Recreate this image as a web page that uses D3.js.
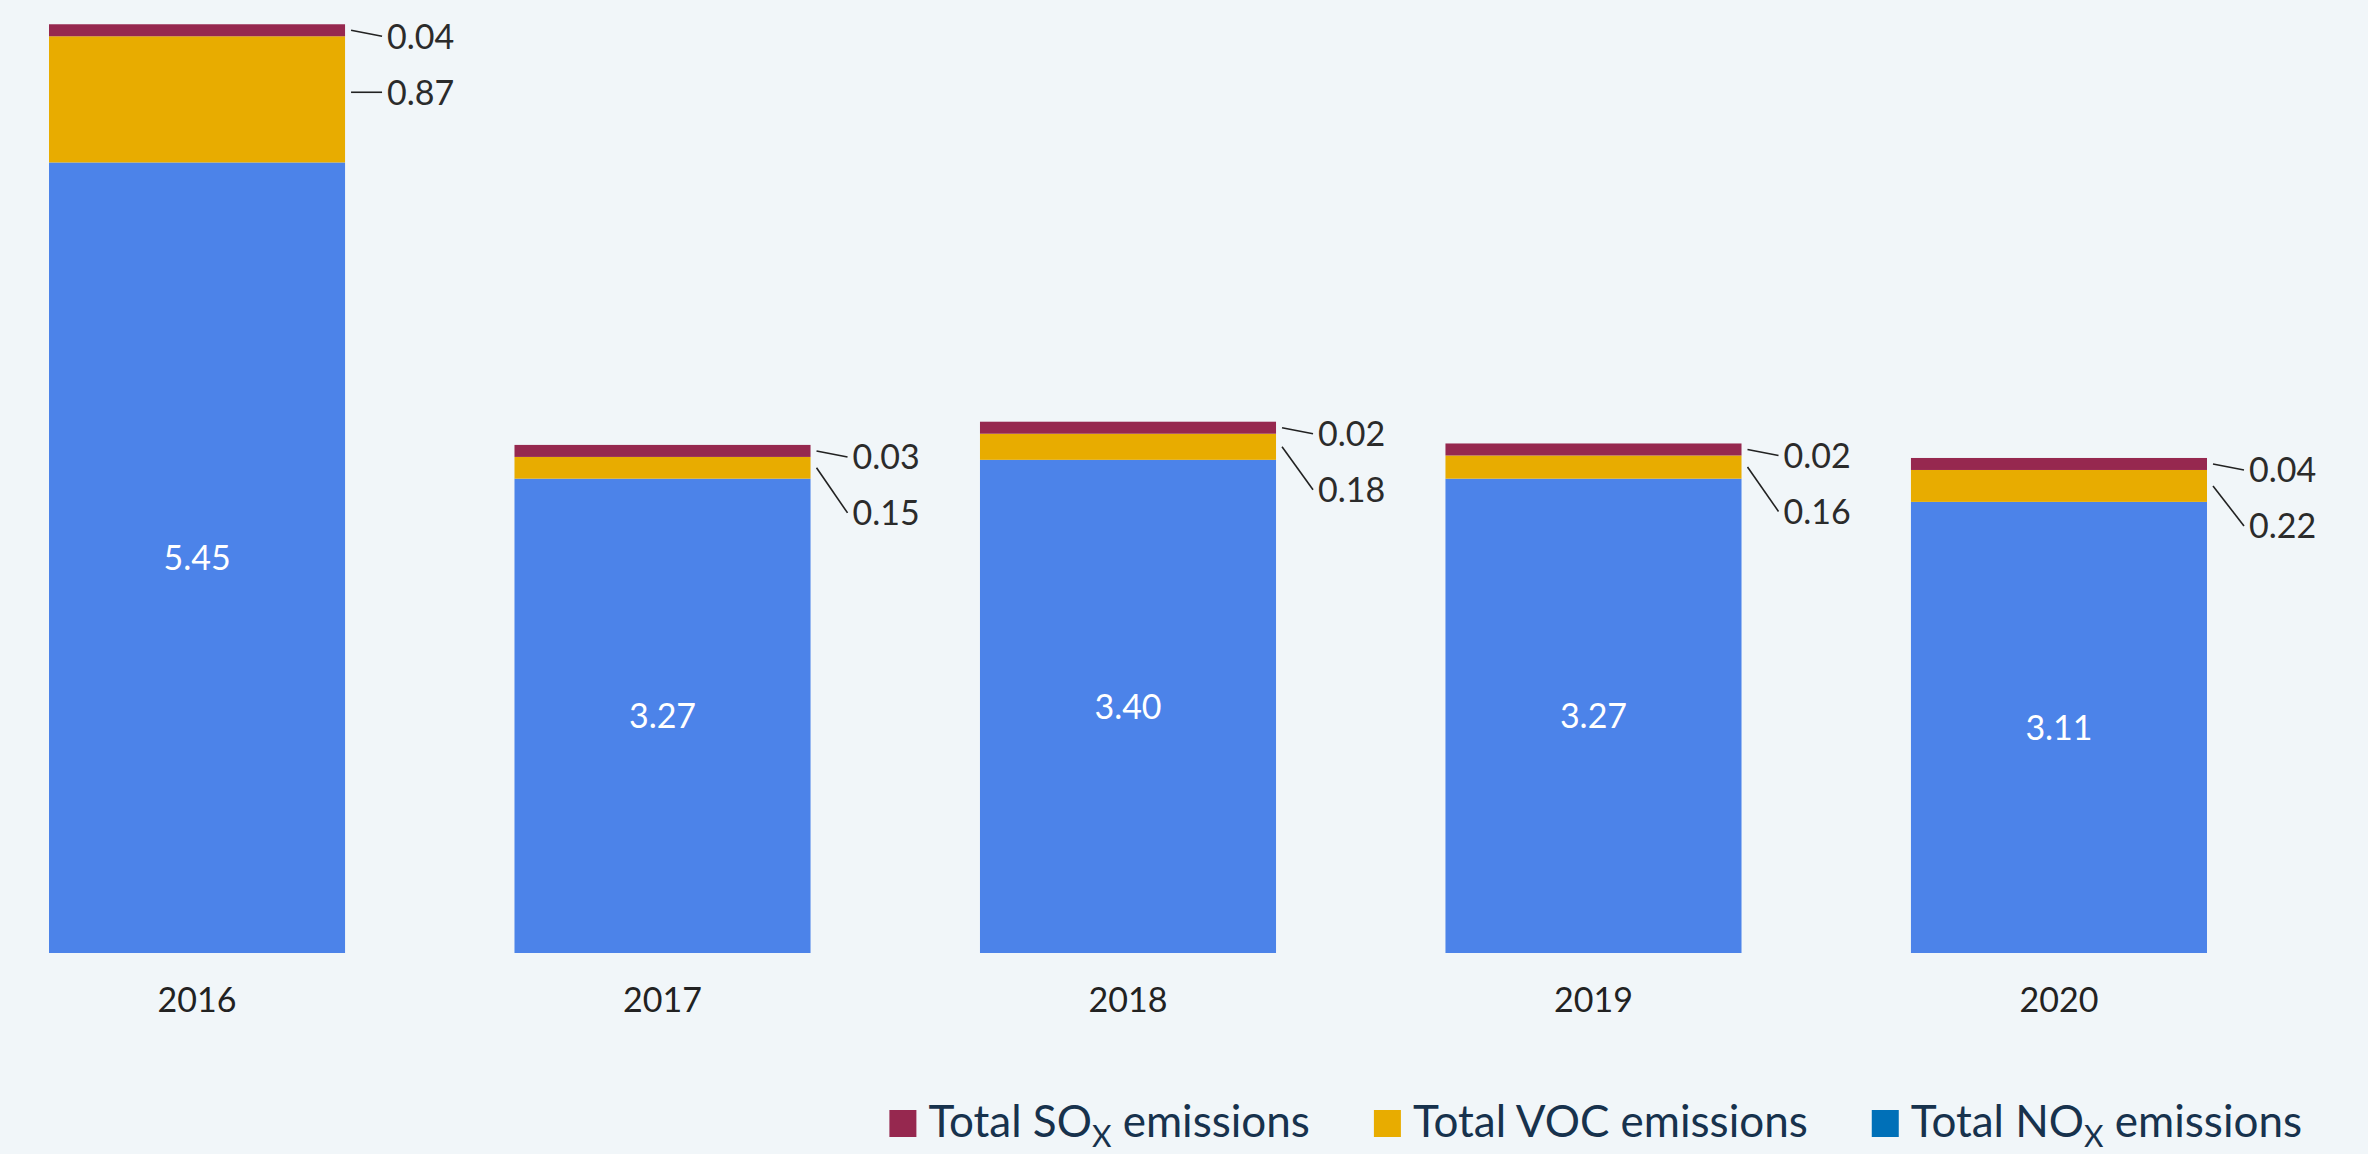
<!DOCTYPE html>
<html>
<head>
<meta charset="utf-8">
<script src="https://cdn.jsdelivr.net/npm/d3@7"></script>
<style>
  html, body { margin: 0; padding: 0; background: #F1F6F9; }
  svg { display: block; }
  text { font-family: Lato, "Noto Sans", sans-serif; font-weight: 400; }
</style>
</head>
<body>
<svg id="chart" width="2368" height="1154"></svg>
<script>
// ---- data ----
const years = ["2016", "2017", "2018", "2019", "2020"];
const noxValues = [5.45, 3.27, 3.40, 3.27, 3.11];
const vocValues = [0.87, 0.15, 0.18, 0.16, 0.22];
const soxValues = [0.04, 0.03, 0.02, 0.02, 0.04];
const legendLabels = [
  { main: "Total SO", sub: "X", rest: " emissions", key: "sox" },
  { main: "Total VOC emissions", sub: "", rest: "", key: "voc" },
  { main: "Total NO", sub: "X", rest: " emissions", key: "nox" }
];

// ---- style ----
const colors = { sox: "#96284F", voc: "#E8AC00", nox: "#4C83E9" };
const legendColors = { sox: "#96284F", voc: "#E8AC00", nox: "#0070B8" };
const W = 2368, H = 1154;
const svg = d3.select("#chart");

svg.append("rect").attr("width", W).attr("height", H).attr("fill", "#F1F6F9");

const x = d3.scaleBand().domain(years).range([49, 2207]).paddingInner(0.364).paddingOuter(0);
const y = d3.scaleLinear().domain([0, 6.57]).range([953, 0]);
const minSegment = 12;

const rows = years.map((yr, i) => ({ year: yr, nox: noxValues[i], voc: vocValues[i], sox: soxValues[i] }));

const g = svg.append("g");

rows.forEach(d => {
  const x0 = x(d.year), bw = x.bandwidth();
  const noxTop = y(d.nox);
  const vocTop = y(d.nox + d.voc);
  const soxH = Math.max(y(0) - y(d.sox), minSegment);
  const soxTop = vocTop - soxH;

  g.append("rect").attr("x", x0).attr("y", noxTop).attr("width", bw).attr("height", y(0) - noxTop).attr("fill", colors.nox);
  g.append("rect").attr("x", x0).attr("y", vocTop).attr("width", bw).attr("height", noxTop - vocTop).attr("fill", colors.voc);
  g.append("rect").attr("x", x0).attr("y", soxTop).attr("width", bw).attr("height", soxH).attr("fill", colors.sox);

  // inside label
  g.append("text")
    .attr("x", x0 + bw / 2).attr("y", (noxTop + y(0)) / 2)
    .attr("dy", "0.36em").attr("text-anchor", "middle")
    .attr("font-size", 34).attr("fill", "#FFFFFF")
    .text(d.nox.toFixed(2));

  // outside labels with leader lines
  const right = x0 + bw;
  const soxMid = (soxTop + vocTop) / 2;
  const soxLabelY = soxMid + 6;
  const vocLabelY = soxLabelY + 56;
  const vocMid = (vocTop + noxTop) / 2;
  const vocStartY = (vocLabelY >= vocTop && vocLabelY <= noxTop) ? vocLabelY : vocMid;

  [[soxMid, soxLabelY, d.sox], [vocStartY, vocLabelY, d.voc]].forEach(([sy, ly, v]) => {
    g.append("line")
      .attr("x1", right + 6).attr("y1", sy)
      .attr("x2", right + 37).attr("y2", ly)
      .attr("stroke", "#222").attr("stroke-width", 1.6);
    g.append("text")
      .attr("x", right + 42).attr("y", ly)
      .attr("dy", "0.36em").attr("font-size", 34).attr("fill", "#2B2B2B")
      .text(v.toFixed(2));
  });
});

// x axis labels
const xAxis = d3.axisBottom(x).tickSize(0).tickPadding(0);
const ax = svg.append("g").attr("transform", "translate(0,953)").call(xAxis);
ax.select(".domain").remove();
ax.selectAll("text")
  .attr("y", 59).attr("dy", 0)
  .attr("font-size", 34).attr("fill", "#222")
  .style("font-family", "Lato, 'Noto Sans', sans-serif")
  .style("font-weight", 400);

// legend (right aligned)
const leg = svg.append("g");
const items = [];
legendLabels.forEach(l => {
  const it = leg.append("g");
  it.append("rect").attr("x", 0).attr("y", 1110).attr("width", 27).attr("height", 27).attr("fill", legendColors[l.key]);
  const t = it.append("text").attr("x", 39).attr("y", 1137).attr("font-size", 44).attr("fill", "#17324D");
  t.append("tspan").text(l.main);
  if (l.sub) {
    t.append("tspan").attr("font-size", 30).attr("dy", 10).text(l.sub);
    t.append("tspan").attr("dy", -10).text(l.rest);
  }
  items.push({ g: it, w: 39 + t.node().getComputedTextLength() });
});
let cx = 2302;
for (let i = items.length - 1; i >= 0; i--) {
  cx -= items[i].w;
  items[i].g.attr("transform", `translate(${cx},0)`);
  cx -= 64;
}
</script>
</body>
</html>
